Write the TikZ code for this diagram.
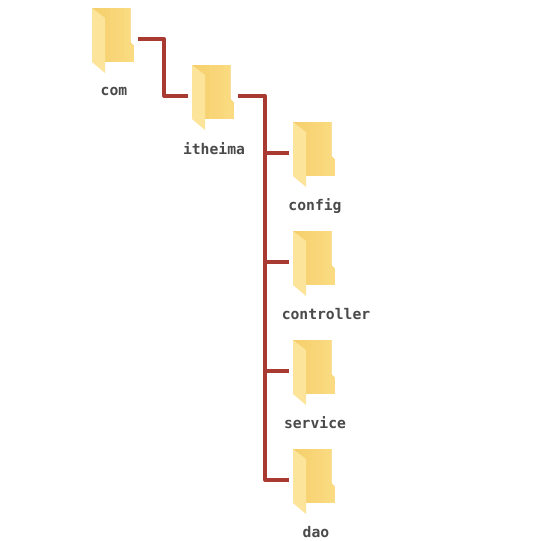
\documentclass[tikz,border=0pt]{standalone}
\usepackage{fontspec}
\newfontfamily\labelfont{DejaVu Sans Mono}
\definecolor{wirered}{HTML}{A83A32}
\definecolor{folderback}{HTML}{F6CF6C}
\definecolor{folderlight}{HTML}{FADB82}
\definecolor{folderleaf}{HTML}{FCE59B}
\definecolor{labelgrey}{HTML}{4A4A4A}
\tikzset{
    wire/.style={line width=3.6pt, wirered, line join=round},
    foldbox/.style={minimum width=50pt, minimum height=20pt, inner sep=0pt},
    foldlabel/.style={font=\labelfont\bfseries\fontsize{14.7}{16}\selectfont, text=labelgrey, inner sep=0pt},
    pics/folder/.style={code={
        \begin{scope}
            \clip (-21,-31) -- (17,-31) -- (17,3) -- (21,7) -- (21,23) -- (-8,23) -- cycle;
            % strips from dark to light, each one runs to the right edge
            \foreach \s in {0,1,...,8} {
                \pgfmathsetmacro{\mixval}{100-\s*12.5}
                \fill[folderback!\mixval!folderlight] (-21+\s*4.6,-31) rectangle (21,23);
            }
        \end{scope}
        \fill[folderleaf] (-21,-31) -- (-8,-21) -- (-8,34) -- (-21,23) -- cycle;
    }}
}
\begin{document}
\begin{tikzpicture}[x=1pt, y=-1pt]

    \useasboundingbox[fill=white] (0,0) rectangle (533,541);

    % Folders
    \node[foldbox] (com) at (113,39) {};
    \node[foldbox] (itheima) at (213,96) {};
    \node[foldbox] (config) at (314,153) {};
    \node[foldbox] (controller) at (314,262) {};
    \node[foldbox] (service) at (314,371) {};
    \node[foldbox] (dao) at (314,480) {};

    \foreach \name in {com,itheima,config,controller,service,dao} {
        \pic at (\name) {folder};
    }

    % Labels
    \node[foldlabel] (comlabel) at (114,91) {com};
    \node[foldlabel] (itheimalabel) at (214,149) {itheima};
    \node[foldlabel] (configlabel) at (315,206) {config};
    \node[foldlabel] (controllerlabel) at (326,314) {controller};
    \node[foldlabel] (servicelabel) at (315,423) {service};
    \node[foldlabel] (daolabel) at (316,532) {dao};

    % Connectors
    \draw[wire] (com.east) -- ++(26,0) |- (itheima.west);
    \draw[wire] (itheima.east) -- ++(27,0) coordinate (trunk) |- (dao.west);
    \foreach \name in {config,controller,service} {
        \draw[wire] (trunk |- \name.west) -- (\name.west);
    }

\end{tikzpicture}
\end{document}
